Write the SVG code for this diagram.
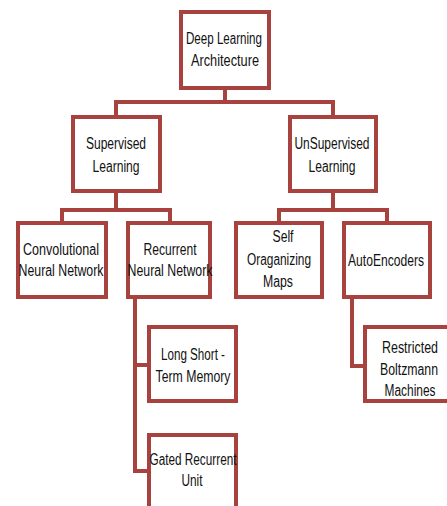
<svg xmlns="http://www.w3.org/2000/svg" width="447" height="506" viewBox="0 0 447 506">
<style>
.box{fill:#fff;stroke:#a8423e;stroke-width:4}
.con{fill:none;stroke:#a8423e;stroke-width:4;stroke-linejoin:miter}
text{font-family:"Liberation Sans",Arial,sans-serif;font-size:16px;fill:#111;text-anchor:middle}
</style>
<rect width="447" height="506" fill="#fff"/>
<g id="connectors">
<path class="con" d="M225,88V102M116,117V102H333V117"/>
<path class="con" d="M116,191V210M62,223V210H170V223"/>
<path class="con" d="M333,191V210M279,223V210H387V223"/>
<path class="con" d="M135,297V471H149M135,365H149"/>
<path class="con" d="M352,297V366H365"/>
</g>
<g id="deep-learning"><rect class="box" x="181" y="12" width="88" height="76"/><text x="224" y="44" textLength="76" lengthAdjust="spacingAndGlyphs">Deep Learning</text><text x="225" y="66" textLength="68" lengthAdjust="spacingAndGlyphs">Architecture</text></g>
<g id="supervised"><rect class="box" x="73" y="117" width="87" height="74"/><text x="116" y="149" textLength="60" lengthAdjust="spacingAndGlyphs">Supervised</text><text x="116" y="172" textLength="47" lengthAdjust="spacingAndGlyphs">Learning</text></g>
<g id="unsupervised"><rect class="box" x="290" y="117" width="86" height="74"/><text x="332" y="149" textLength="75" lengthAdjust="spacingAndGlyphs">UnSupervised</text><text x="332" y="172" textLength="47" lengthAdjust="spacingAndGlyphs">Learning</text></g>
<g id="cnn"><rect class="box" x="18" y="223" width="88" height="74"/><text x="61" y="255" textLength="76" lengthAdjust="spacingAndGlyphs">Convolutional</text><text x="61" y="276" textLength="85" lengthAdjust="spacingAndGlyphs">Neural Network</text></g>
<g id="rnn"><rect class="box" x="128" y="223" width="82" height="74"/><text x="170" y="255" textLength="53" lengthAdjust="spacingAndGlyphs">Recurrent</text><text x="170" y="276" textLength="85" lengthAdjust="spacingAndGlyphs">Neural Network</text></g>
<g id="som"><rect class="box" x="236" y="223" width="86" height="74"/><text x="283" y="242" textLength="21" lengthAdjust="spacingAndGlyphs">Self</text><text x="279" y="265" textLength="64" lengthAdjust="spacingAndGlyphs">Oraganizing</text><text x="278" y="287" textLength="30" lengthAdjust="spacingAndGlyphs">Maps</text></g>
<g id="autoencoders"><rect class="box" x="344" y="223" width="86" height="74"/><text x="386" y="266" textLength="76" lengthAdjust="spacingAndGlyphs">AutoEncoders</text></g>
<g id="lstm"><rect class="box" x="149" y="327" width="87" height="74"/><text x="193" y="360" textLength="64" lengthAdjust="spacingAndGlyphs">Long Short -</text><text x="193" y="382" textLength="75" lengthAdjust="spacingAndGlyphs">Term Memory</text></g>
<g id="gru"><rect class="box" x="149" y="435" width="87" height="76"/><text x="193" y="465" textLength="87" lengthAdjust="spacingAndGlyphs">Gated Recurrent</text><text x="192" y="486" textLength="21" lengthAdjust="spacingAndGlyphs">Unit</text></g>
<g id="rbm"><rect class="box" x="365" y="327" width="90" height="74"/><text x="410" y="353" textLength="56" lengthAdjust="spacingAndGlyphs">Restricted</text><text x="409" y="375" textLength="58" lengthAdjust="spacingAndGlyphs">Boltzmann</text><text x="410" y="396" textLength="51" lengthAdjust="spacingAndGlyphs">Machines</text></g>
</svg>
